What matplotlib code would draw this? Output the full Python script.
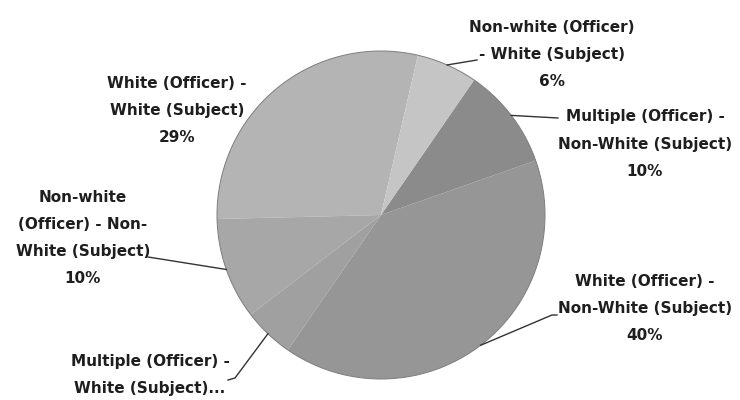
import numpy as np
import matplotlib
matplotlib.use('Agg')
import matplotlib.pyplot as plt
from matplotlib.patches import Circle

# Data (counter-clockwise from the top-left wedge)
labels = ['White (Officer) -\nWhite (Subject)\n29%',
          'Non-white\n(Officer) - Non-\nWhite (Subject)\n10%',
          'Multiple (Officer) -\nWhite (Subject)...',
          'White (Officer) -\nNon-White (Subject)\n40%',
          'Multiple (Officer) -\nNon-White (Subject)\n10%',
          'Non-white (Officer)\n- White (Subject)\n6%']
shares = [29, 10, 5, 40, 10, 6]
colors = ['#b4b4b4', '#a7a7a7', '#a0a0a0', '#969696', '#8b8b8b', '#c5c5c5']

# layout (pixel coords, y from top)
W, H = 740, 400
cx, cy, r = 381, 215, 164
label_xy = [(177, 110), (83, 238), (150, 375), (645, 309), (645, 144), (552, 54)]
leader_end = [None, [(148, 257)], [(235, 378), (228, 380)],
              [(552, 315), (557, 315)], [(558, 118)], [(477, 60)]]

fig = plt.figure(figsize=(7.4, 4), dpi=100)
ax = fig.add_axes([0, 0, 1, 1])

wedges, _ = ax.pie(shares, colors=colors, startangle=77, counterclock=True,
                   center=(cx, H - cy), radius=r, frame=True,
                   wedgeprops=dict(edgecolor='none'))
ax.add_patch(Circle((cx, H - cy), r, fill=False, edgecolor='#7d7d7d', lw=0.7))

for w, lab, (lx, ly), ends in zip(wedges, labels, label_xy, leader_end):
    ax.text(lx, H - ly, lab, ha='center', va='center', fontsize=11,
            fontweight='bold', color='#1e1e1e', linespacing=2.0)
    if ends is None:
        continue
    mid = np.deg2rad((w.theta1 + w.theta2) / 2)
    xs = [cx + r * np.cos(mid)] + [p[0] for p in ends]
    ys = [H - cy + r * np.sin(mid)] + [H - p[1] for p in ends]
    ax.plot(xs, ys, color='#333333', lw=1)

ax.set_xlim(0, W)
ax.set_ylim(0, H)
ax.set_aspect('equal')
ax.axis('off')

fig.savefig('out.png', dpi=100, facecolor='white')
